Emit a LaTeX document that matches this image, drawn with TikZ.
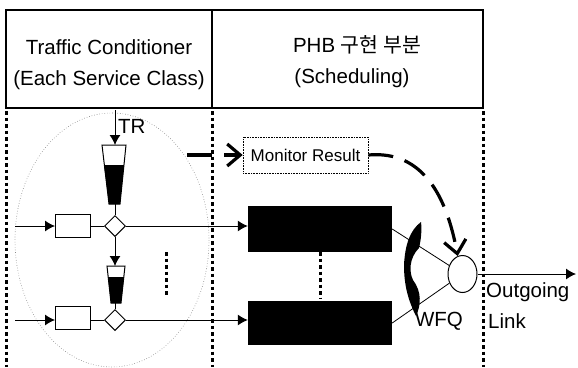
\documentclass[tikz,border=0pt]{standalone}
\usepackage{fontspec}
\setmainfont{Liberation Sans}
\newfontfamily\krfont{Noto Sans CJK KR}
\usetikzlibrary{arrows.meta,bending,shapes.geometric}
\begin{document}
\begin{tikzpicture}[x=1pt,y=-1pt,
  txt/.style={inner sep=0pt,font=\fontsize{20.5}{24}\selectfont},
  sepline/.style={line width=3pt,dash pattern=on 3.5pt off 3pt},
  shaper/.style={draw,line width=1pt,minimum width=35pt,minimum height=23pt,inner sep=0pt},
  marker/.style={draw,diamond,line width=1pt,minimum size=21pt,inner sep=0pt},
  queue/.style={fill=black,minimum width=144pt,inner sep=0pt},
  flow/.style={line width=1pt,-{Latex[length=10pt,width=11pt]}},
  ctrl/.style={line width=3.2pt,dash pattern=on 25pt off 12pt,-{Straight Barb[length=13pt,width=22pt]}}]
  \useasboundingbox (0,0) rectangle (578,367);
  \draw[line width=1.8pt] (6,10) rectangle (483,108);
  \draw[line width=1.8pt] (212,10) -- (212,108);
  \node[txt] (tc1) at (109,47) {Traffic Conditioner};
  \node[txt] (tc2) at (109,80) {(Each Service Class)};
  \node[txt] (phb1) at (357,45) {PHB {\krfont 구현 부분}};
  \node[txt] (phb2) at (352,78) {(Scheduling)};
  \foreach \x in {6,212,483}
    \draw[sepline] (\x,111) -- (\x,367);
  \draw[gray,dotted,line width=0.6pt] (112,240) ellipse [x radius=97,y radius=127];
  \begin{scope}[line width=1pt]
    \draw (102,145) -- (126,145) -- (120,204) -- (109,204) -- cycle;
    \fill (104,165) -- (124,165) -- (120,204) -- (109,204) -- cycle;
    \draw (107,266) -- (125,266) -- (121,303) -- (111,303) -- cycle;
    \fill (108,277) -- (124,277) -- (121,303) -- (111,303) -- cycle;
  \end{scope}
  \coordinate (tr) at (115,110);
  \coordinate (bk1top) at (115,145);
  \coordinate (bk1bot) at (115,204);
  \coordinate (bk2top) at (115,266);
  \coordinate (bk2bot) at (115,303);
  \node[txt,anchor=west] (trl) at (118,126) {TR};
  \coordinate (in1) at (15,226);
  \coordinate (in2) at (15,320);
  \node[shaper] (sh1) at (73,226) {};
  \node[shaper] (sh2) at (73,318) {};
  \node[marker] (dm1) at (115,226) {};
  \node[marker] (dm2) at (115,320) {};
  \node[queue,minimum height=46pt] (q1) at (320,229) {};
  \node[queue,minimum height=44pt] (q2) at (320,323) {};
  \draw[flow] (tr) -- (bk1top);
  \draw[line width=1pt] (bk1bot) -- (dm1.north);
  \draw[flow] (dm1.south) -- (bk2top);
  \draw[line width=1pt] (bk2bot) -- (dm2.north);
  \draw[flow] (in1) -- (sh1);
  \draw[flow] (in2) -- (sh2.west |- in2);
  \draw[line width=1pt] (sh1) -- (dm1);
  \draw[line width=1pt] (sh2.east |- dm2) -- (dm2);
  \draw[flow] (dm1) -- (q1.west |- dm1);
  \draw[flow] (dm2) -- (q2.west |- dm2);
  \draw[sepline] (166,252) -- (166,296);
  \draw[sepline] (320,252) -- (320,298);
  \node[draw,densely dotted,line width=0.6pt,minimum width=125pt,minimum height=36pt,
    inner sep=0pt,font=\fontsize{17}{20}\selectfont] (mon) at (305.5,155) {Monitor Result};
  \node[draw,ellipse,line width=1pt,minimum width=29pt,minimum height=37pt,inner sep=0pt] (wfq) at (462.5,274) {};
  \draw[line width=0.8pt] (q1.east) -- (wfq);
  \draw[line width=0.8pt] (q2.east) -- (wfq);
  \fill (421,222) .. controls (410,230) and (405,245) .. (404,265)
    .. controls (404,285) and (408,300) .. (416,316)
    .. controls (421,305) and (422,292) .. (413,280)
    .. controls (409,272) and (409,258) .. (419,248)
    .. controls (421,240) and (422,230) .. (421,222) -- cycle;
  \coordinate (rim) at (187,155);
  \draw[ctrl] (rim) -- (mon.west);
  \draw[ctrl] (mon.east) .. controls (425,150) and (448,200) .. (wfq.105);
  \coordinate (out) at (576,274);
  \draw[flow] (wfq.east) -- (out);
  \node[txt,anchor=west] (og) at (486,292) {Outgoing};
  \node[txt,anchor=west] (lk) at (488,321) {Link};
  \node[txt] (wl) at (439,321) {WFQ};
\end{tikzpicture}
\end{document}
